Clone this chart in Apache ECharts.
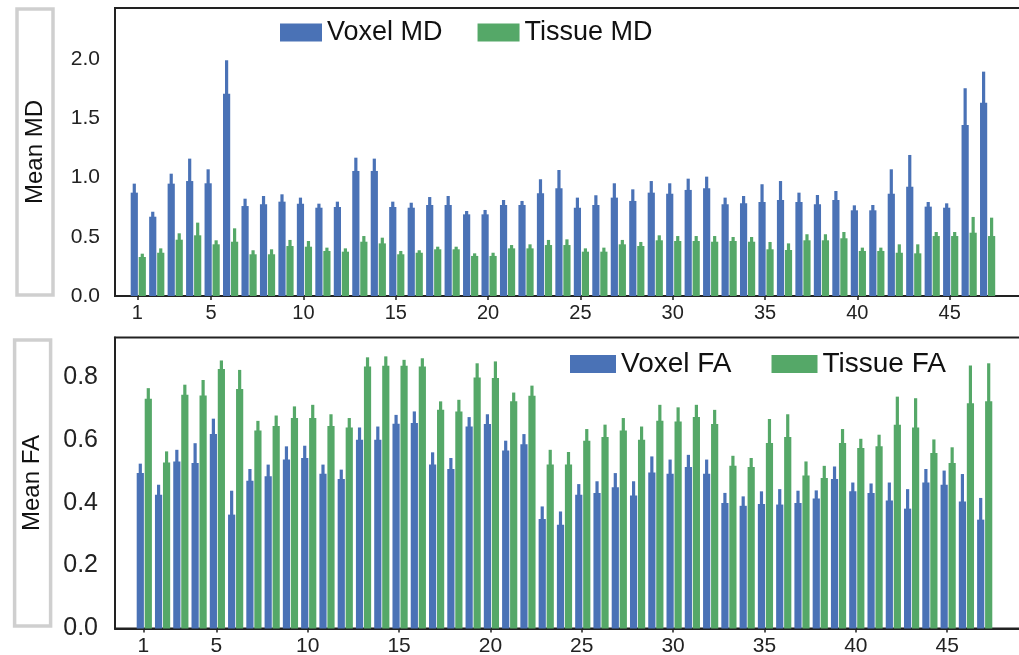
<!DOCTYPE html>
<html><head><meta charset="utf-8">
<script src="https://cdn.jsdelivr.net/npm/echarts@6/dist/echarts.min.js"></script>
<style>html,body{margin:0;padding:0;background:#fff}#c{width:1019px;height:655px}</style>
</head><body><div id="c"></div>
<script>
// ---- data ----
const regions = [1,2,3,4,5,6,7,8,9,10,11,12,13,14,15,16,17,18,19,20,21,22,23,24,25,26,27,28,29,30,31,32,33,34,35,36,37,38,39,40,41,42,43,44,45,46,47];
const xTickValues = [1,5,10,15,20,25,30,35,40,45];

const voxelMD = [0.872,0.669,0.948,0.970,0.951,1.707,0.759,0.774,0.796,0.779,0.745,0.751,1.055,1.055,0.751,0.745,0.768,0.768,0.689,0.689,0.768,0.768,0.867,0.909,0.745,0.768,0.830,0.802,0.872,0.863,0.895,0.909,0.774,0.782,0.793,0.810,0.793,0.774,0.810,0.723,0.723,0.863,0.922,0.754,0.745,1.443,1.631];
const voxelMDErr = [0.076,0.042,0.084,0.189,0.118,0.282,0.062,0.070,0.062,0.051,0.034,0.045,0.112,0.104,0.045,0.042,0.067,0.076,0.028,0.037,0.042,0.034,0.118,0.154,0.085,0.082,0.121,0.098,0.098,0.088,0.095,0.098,0.056,0.062,0.150,0.160,0.079,0.078,0.076,0.042,0.045,0.206,0.268,0.039,0.037,0.310,0.262];
const tissueMD = [0.329,0.365,0.475,0.512,0.436,0.458,0.352,0.352,0.422,0.416,0.380,0.374,0.458,0.444,0.352,0.365,0.394,0.394,0.338,0.338,0.402,0.402,0.430,0.430,0.374,0.374,0.436,0.422,0.470,0.464,0.464,0.458,0.464,0.458,0.394,0.388,0.470,0.470,0.487,0.380,0.380,0.365,0.360,0.506,0.506,0.534,0.506];
const tissueMDErr = [0.028,0.037,0.054,0.107,0.034,0.113,0.034,0.042,0.051,0.048,0.028,0.028,0.048,0.048,0.028,0.021,0.022,0.022,0.022,0.027,0.028,0.034,0.043,0.048,0.028,0.034,0.037,0.034,0.042,0.042,0.042,0.048,0.034,0.040,0.062,0.056,0.051,0.051,0.053,0.028,0.028,0.071,0.076,0.034,0.034,0.133,0.155];

const voxelFA = [0.494,0.425,0.531,0.526,0.618,0.362,0.470,0.484,0.537,0.542,0.492,0.475,0.600,0.600,0.651,0.653,0.521,0.507,0.642,0.650,0.566,0.586,0.348,0.330,0.425,0.431,0.449,0.423,0.496,0.492,0.513,0.492,0.399,0.390,0.396,0.394,0.399,0.413,0.475,0.436,0.431,0.407,0.381,0.464,0.457,0.404,0.346];
const voxelFAErr = [0.030,0.032,0.037,0.063,0.049,0.076,0.037,0.037,0.042,0.039,0.029,0.030,0.039,0.042,0.028,0.037,0.039,0.035,0.030,0.031,0.031,0.032,0.040,0.042,0.034,0.037,0.045,0.045,0.051,0.045,0.039,0.045,0.032,0.030,0.040,0.049,0.039,0.026,0.040,0.028,0.030,0.057,0.062,0.043,0.045,0.087,0.069];
const tissueFA = [0.730,0.528,0.743,0.741,0.825,0.761,0.629,0.644,0.669,0.669,0.644,0.639,0.833,0.835,0.835,0.833,0.695,0.690,0.798,0.796,0.722,0.740,0.521,0.521,0.597,0.609,0.629,0.600,0.660,0.658,0.672,0.650,0.517,0.513,0.590,0.609,0.486,0.478,0.590,0.574,0.579,0.648,0.639,0.558,0.526,0.716,0.722];
const tissueFAErr = [0.034,0.035,0.032,0.049,0.027,0.061,0.031,0.033,0.037,0.042,0.037,0.030,0.029,0.030,0.019,0.026,0.027,0.037,0.045,0.053,0.028,0.032,0.047,0.040,0.037,0.039,0.040,0.042,0.051,0.045,0.039,0.045,0.032,0.029,0.076,0.072,0.045,0.039,0.044,0.029,0.037,0.089,0.093,0.043,0.050,0.120,0.121];

// ---- styles ----
const BLUE = '#4A72B6', GREEN = '#55A868';
const BAR_W = 7.2, BAR_GAP = 0.8, ERR_W = 3.2, SHIFT = 1;
const HALF_OFF = (BAR_W + BAR_GAP) / 2;
const INK = '#222';
const FONT = '"Liberation Sans", Arial, sans-serif';

function triples(vals, errs){ return regions.map((r,i)=>[r, vals[i], errs[i]]); }
function barErrRender(offset){
  return function(params, api){
    const x = api.value(0), v = api.value(1), e = api.value(2);
    const zero = api.coord([x, 0]);
    const top = api.coord([x, v]);
    const etop = api.coord([x, v + e]);
    const cx = zero[0] + SHIFT + offset;
    const fill = api.visual('color');
    return { type:'group', children:[
      { type:'rect', shape:{ x: cx - BAR_W/2, y: top[1], width: BAR_W, height: zero[1] - top[1] }, style:{ fill } },
      { type:'rect', shape:{ x: cx - ERR_W/2, y: etop[1], width: ERR_W, height: top[1] - etop[1] + 1 }, style:{ fill } }
    ]};
  };
}
function barSeries(name, vals, errs, color, idx, offset){
  return { type:'custom', name, xAxisIndex: idx, yAxisIndex: idx, data: triples(vals, errs),
           encode:{ x:0, y:[1] }, renderItem: barErrRender(offset), itemStyle:{ color } };
}
function xAxisCfg(idx, min, max, fs){
  return { type:'value', gridIndex: idx, min, max,
    axisLine:{ show:true, onZero:false, lineStyle:{ color: INK, width:2 } },
    axisTick:{ show:true, length:4, customValues: xTickValues, lineStyle:{ color: INK, width:1.5 } },
    axisLabel:{ customValues: xTickValues, fontSize: fs, color: INK, fontFamily: FONT, margin: 7 },
    splitLine:{ show:false } };
}
function yAxisCfg(idx, max, interval, fs, margin, name, nameGap, padH){
  return { type:'value', gridIndex: idx, min:0, max, interval,
    axisLine:{ show:true, onZero:false, lineStyle:{ color: INK, width:2 } },
    axisTick:{ show:false },
    axisLabel:{ fontSize: fs, color: INK, fontFamily: FONT, margin,
      formatter: v => v.toFixed(1), showMaxLabel: false },
    splitLine:{ show:false },
    name, nameLocation:'middle', nameRotate: 90, nameGap,
    nameTextStyle:{ fontSize: 24, color:'#111', fontFamily: FONT, lineHeight: 24,
      padding:[6, padH, 6, padH], borderColor:'#cfcfcf', borderWidth:3.5 } };
}

const chart = echarts.init(document.getElementById('c'), null, { renderer:'canvas' });
chart.setOption({
  animation: false,
  backgroundColor: '#fff',
  grid: [
    { left:115, top:8, width:927, height:288, show:true, borderColor: INK, borderWidth:2, outerBoundsMode:'none', containLabel:false },
    { left:115, top:337.5, width:923.5, height:291, show:true, borderColor: INK, borderWidth:2, outerBoundsMode:'none', containLabel:false }
  ],
  legend: [
    { data:['Voxel MD','Tissue MD'], left:280, top:19, padding:0, itemWidth:42, itemHeight:18, itemGap:35,
      icon:'rect', textStyle:{ fontSize:27, color:'#111', fontFamily: FONT } },
    { data:['Voxel FA','Tissue FA'], left:570, top:350, padding:0, itemWidth:46, itemHeight:18, itemGap:40,
      icon:'rect', textStyle:{ fontSize:28, color:'#111', fontFamily: FONT } }
  ],
  xAxis: [ xAxisCfg(0, -0.207, 50, 20), xAxisCfg(1, -0.549, 50, 21) ],
  yAxis: [ yAxisCfg(0, 2.43, 0.5, 21, 15, 'Mean MD', 62, 91),
           yAxisCfg(1, 0.925, 0.2, 25, 17, 'Mean FA', 62, 95) ],
  series: [
    barSeries('Voxel MD', voxelMD, voxelMDErr, BLUE, 0, -HALF_OFF),
    barSeries('Tissue MD', tissueMD, tissueMDErr, GREEN, 0, HALF_OFF),
    barSeries('Voxel FA', voxelFA, voxelFAErr, BLUE, 1, -HALF_OFF),
    barSeries('Tissue FA', tissueFA, tissueFAErr, GREEN, 1, HALF_OFF)
  ]
});
</script></body></html>
